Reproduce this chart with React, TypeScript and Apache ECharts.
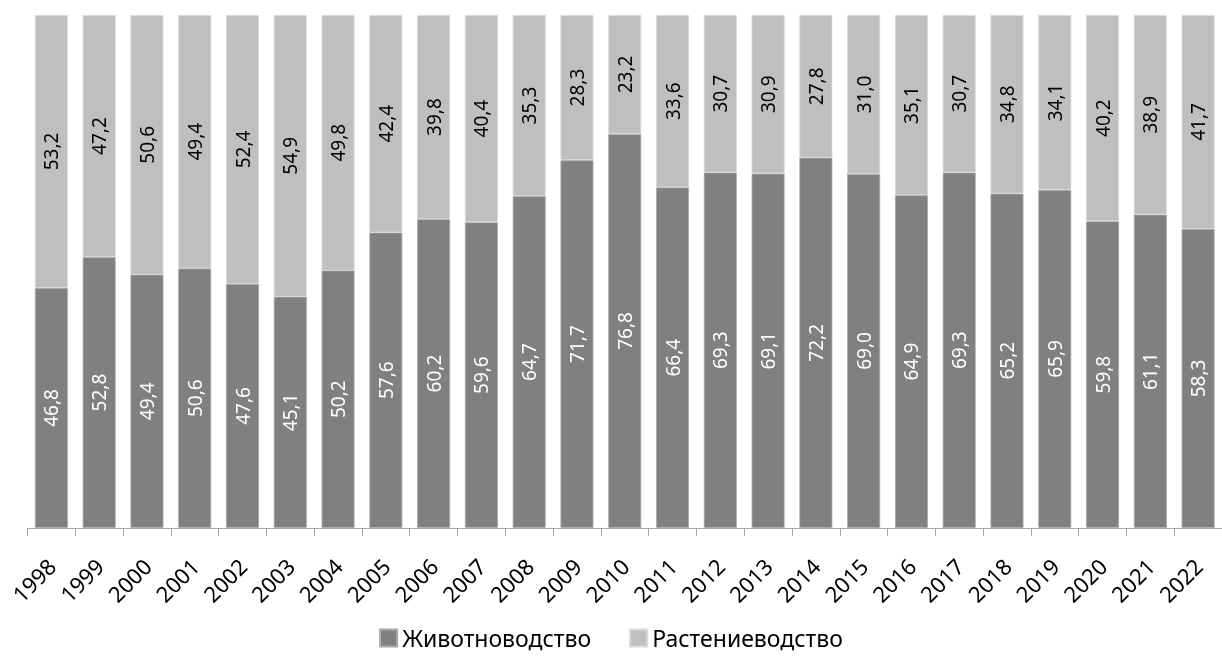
import React, { useEffect, useRef } from "react";
import * as echarts from "echarts";

const years = ["1998","1999","2000","2001","2002","2003","2004","2005","2006","2007","2008","2009","2010","2011","2012","2013","2014","2015","2016","2017","2018","2019","2020","2021","2022"];
const livestock = [46.8, 52.8, 49.4, 50.6, 47.6, 45.1, 50.2, 57.6, 60.2, 59.6, 64.7, 71.7, 76.8, 66.4, 69.3, 69.1, 72.2, 69.0, 64.9, 69.3, 65.2, 65.9, 59.8, 61.1, 58.3];
const crops = [53.2, 47.2, 50.6, 49.4, 52.4, 54.9, 49.8, 42.4, 39.8, 40.4, 35.3, 28.3, 23.2, 33.6, 30.7, 30.9, 27.8, 31.0, 35.1, 30.7, 34.8, 34.1, 40.2, 38.9, 41.7];
const seriesNames = ["Животноводство", "Растениеводство"];

const FONT = "Noto Sans";
const fmt = (p: any) => Number(p.value).toFixed(1).replace(".", ",");

export default function App() {
  const ref = useRef<HTMLDivElement>(null);
  useEffect(() => {
    if (!ref.current) return;
    const chart = echarts.init(ref.current, null, { renderer: "svg" });
    chart.setOption({
      animation: false,
      textStyle: { fontFamily: FONT },
      grid: { left: 27.5, top: 15, width: 1206.25, height: 513, containLabel: false },
      legend: {
        data: seriesNames,
        top: 625,
        left: "center",
        padding: 0,
        itemWidth: 17,
        itemHeight: 17,
        itemGap: 38,
        icon: "rect",
        textStyle: { fontFamily: FONT, fontSize: 23, color: "#000", lineHeight: 26 },
      },
      xAxis: {
        type: "category",
        data: years,
        axisLine: { lineStyle: { color: "#a6a6a6", width: 1 } },
        axisTick: { show: true, length: 8, lineStyle: { color: "#a6a6a6" } },
        axisLabel: { rotate: 45, fontSize: 22, color: "#000", margin: 34, fontFamily: FONT, interval: 0 },
      },
      yAxis: { type: "value", min: 0, max: 100, show: false, splitLine: { show: false } },
      series: [
        {
          name: seriesNames[0],
          type: "bar",
          stack: "total",
          data: livestock,
          barCategoryGap: "31%",
          itemStyle: { color: "#808080", borderColor: "#a9a9a9", borderWidth: 0.8 },
          label: { show: true, position: "inside", rotate: 90, color: "#fff", fontSize: 19, fontFamily: FONT, formatter: fmt },
        },
        {
          name: seriesNames[1],
          type: "bar",
          stack: "total",
          data: crops,
          barCategoryGap: "31%",
          itemStyle: { color: "#bfbfbf", borderColor: "#d9d9d9", borderWidth: 0.8 },
          label: { show: true, position: "inside", rotate: 90, color: "#000", fontSize: 19, fontFamily: FONT, formatter: fmt },
        },
      ],
    });
    return () => chart.dispose();
  }, []);
  return <div ref={ref} style={{ position: "fixed", left: 0, top: 0, width: 1222, height: 657 }} />;
}
